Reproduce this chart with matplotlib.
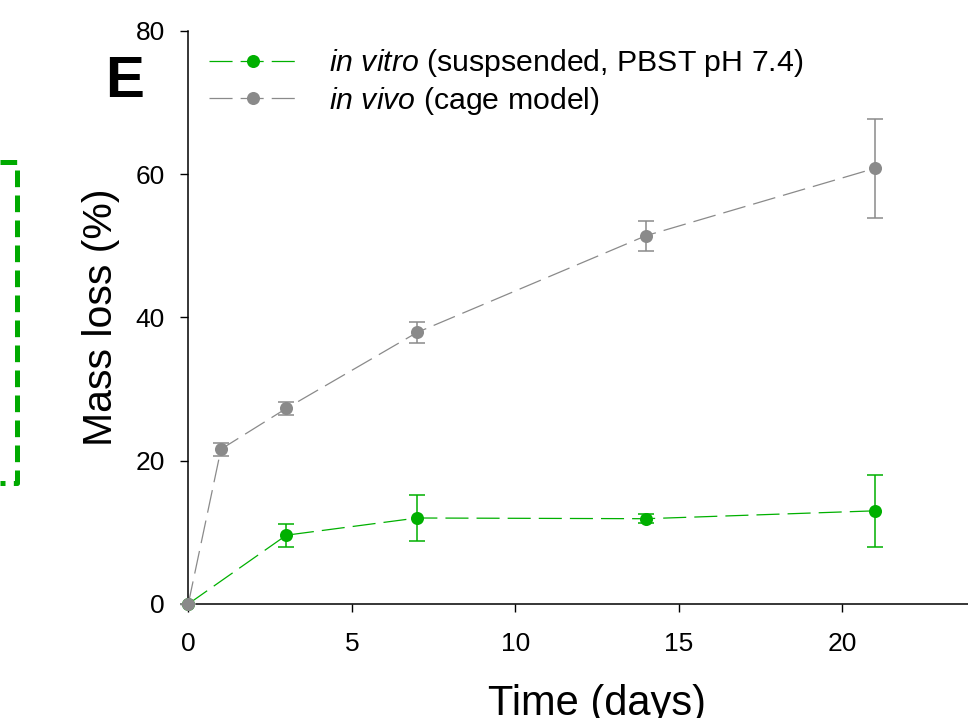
import matplotlib
matplotlib.use("Agg")
import matplotlib.pyplot as plt
from matplotlib.lines import Line2D

plt.rcParams['font.family'] = ['Liberation Sans', 'DejaVu Sans']
plt.rcParams['mathtext.fontset'] = 'custom'
plt.rcParams['mathtext.rm'] = 'Liberation Sans'
plt.rcParams['mathtext.it'] = 'Liberation Sans:italic'
plt.rcParams['lines.scale_dashes'] = False

# data
days_vitro = [0, 3, 7, 14, 21]
loss_vitro = [0, 9.6, 12.0, 11.9, 13.0]
err_vitro = [0, 1.6, 3.2, 0.6, 5.0]

days_vivo = [0, 1, 3, 7, 14, 21]
loss_vivo = [0, 21.6, 27.3, 37.9, 51.4, 60.8]
err_vivo = [0, 0.9, 0.9, 1.45, 2.1, 6.9]

label_vitro = r'$\it{in\ vitro}$ (suspsended, PBST pH 7.4)'
label_vivo = r'$\it{in\ vivo}$ (cage model)'

green = '#00b000'
grey = '#8a8a8a'
dash = (16.6, 5.8)

fig = plt.figure(figsize=(9.68, 7.18), dpi=100)
ax = fig.add_axes([0.1945, 0.1588, 0.8445, 0.7984])

for x, y, e, c, lab, z in [(days_vitro, loss_vitro, err_vitro, green, label_vitro, 3),
                           (days_vivo, loss_vivo, err_vivo, grey, label_vivo, 4)]:
    ax.errorbar(x, y, yerr=e, fmt='none', ecolor=c, elinewidth=1.1,
                capsize=5.8, capthick=1.1, zorder=z, clip_on=False)
    ax.plot(x, y, color=c, lw=0.9, dashes=dash, marker='o', markersize=9.4,
            markeredgewidth=0, label=lab, zorder=z + 0.5, clip_on=False)

ax.set_xlim(0, 25)
ax.set_ylim(0, 80)
ax.set_xticks([0, 5, 10, 15, 20])
ax.set_yticks([0, 20, 40, 60, 80])
ax.spines['top'].set_visible(False)
ax.spines['right'].set_visible(False)
for s in ['left', 'bottom']:
    ax.spines[s].set_linewidth(1.1)
ax.tick_params(axis='both', direction='out', length=5.8, width=1.0, labelsize=19)
ax.tick_params(axis='x', pad=14.5)
ax.tick_params(axis='y', pad=11)

ax.set_xlabel('Time (days)', fontsize=30, labelpad=20)
ax.set_ylabel('Mass loss (%)', fontsize=29.5, labelpad=11)

ax.legend(loc='upper left', bbox_to_anchor=(0.0, 1.008), frameon=False,
          fontsize=21.8, handlelength=2.85, handletextpad=1.1,
          labelspacing=0.19, borderaxespad=0.3)

fig.text(105 / 968, 1 - 96.7 / 718, 'E', fontsize=42, fontweight='bold',
         ha='left', va='baseline')

# green dashed box edge, cut off at left of the figure
fig.add_artist(Line2D([0, 17 / 968, 17 / 968, 0],
                      [1 - 162 / 718, 1 - 162 / 718, 1 - 483 / 718, 1 - 483 / 718],
                      transform=fig.transFigure, color='#00aa00', lw=3.6,
                      dashes=(12, 6)))

fig.savefig('out.png', dpi=100)
